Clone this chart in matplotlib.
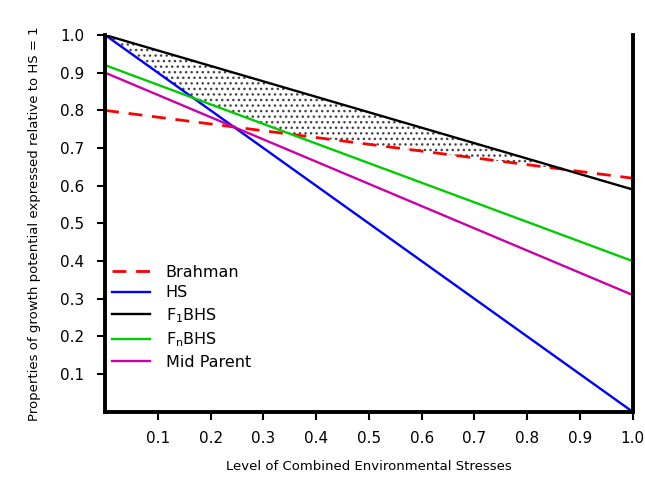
import matplotlib.pyplot as plt
import numpy as np

# niveles de estrés (extremos de cada recta)
estres = [0.0, 1.0]
brahman = [0.80, 0.62]
hs = [1.00, 0.00]
f1bhs = [1.00, 0.59]
fnbhs = [0.92, 0.40]
mid_parent = [0.90, 0.31]

ticks_x = [0.1, 0.2, 0.3, 0.4, 0.5, 0.6, 0.7, 0.8, 0.9, 1.0]
ticks_y = [0.1, 0.2, 0.3, 0.4, 0.5, 0.6, 0.7, 0.8, 0.9, 1.0]

fig = plt.figure(figsize=(6.45, 4.8), dpi=100)
ax = fig.add_axes([0.163, 0.142, 0.818, 0.785])

# zona sombreada: F1 por encima del mejor de los otros
xx = np.linspace(estres[0], estres[1], 400)
techo = np.interp(xx, estres, f1bhs)
piso = np.maximum.reduce([np.interp(xx, estres, brahman),
                          np.interp(xx, estres, hs),
                          np.interp(xx, estres, fnbhs)])
plt.rcParams['hatch.color'] = '#444444'
plt.rcParams['hatch.linewidth'] = 1.0
ax.fill_between(xx, piso, techo, where=techo >= piso, facecolor='none',
                edgecolor='#444444', hatch='...', linewidth=0)

ax.plot(estres, brahman, color='#ff0000', linestyle=(0, (5, 3.5)), lw=2.0, label='Brahman')
ax.plot(estres, hs, color='#0000ff', lw=1.7, label='HS')
ax.plot(estres, f1bhs, color='black', lw=1.7, label=r'F$\mathregular{_1}$BHS')
ax.plot(estres, fnbhs, color='#00cc00', lw=1.7, label=r'F$\mathregular{_n}$BHS')
ax.plot(estres, mid_parent, color='#cc00aa', lw=1.7, label='Mid Parent')

ax.set_xlim(0, 1.0)
ax.set_ylim(0, 1.0)
ax.set_xticks(ticks_x)
ax.set_yticks(ticks_y)
ax.set_xticklabels([f'{t:.1f}' for t in ticks_x])
ax.set_yticklabels([f'{t:.1f}' for t in ticks_y])
ax.tick_params(axis='both', direction='out', length=6, width=1.5, labelsize=11, color='black')
ax.tick_params(axis='x', pad=8)
ax.tick_params(axis='y', pad=9)

for lado in ['left', 'bottom', 'right']:
    ax.spines[lado].set_linewidth(2.8)
ax.spines['top'].set_visible(False)

ax.set_xlabel('Level of Combined Environmental Stresses', fontsize=9.5, labelpad=10)
ax.set_ylabel('Properties of growth potential expressed relative to HS = 1', fontsize=9.5, labelpad=14)

ax.legend(loc='lower left', bbox_to_anchor=(0.0, 0.095), frameon=False, fontsize=11.5,
          handlelength=2.4, handletextpad=1.0, labelspacing=0.35,
          borderaxespad=0.1, borderpad=0.3)

fig.savefig('out.png', dpi=100)
